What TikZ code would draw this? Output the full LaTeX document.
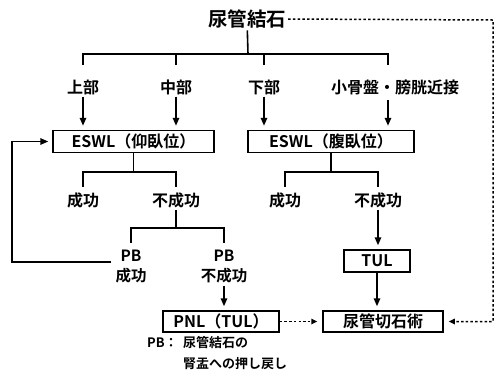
\documentclass[tikz,border=0pt]{standalone}
\usepackage{fontspec}
\setmainfont{Noto Sans CJK JP}[BoldFont={* Bold}]
\usetikzlibrary{arrows.meta}
\tikzset{
  lab/.style={inner sep=2pt, font=\fontsize{16}{18}\selectfont\bfseries},
  ttl/.style={inner sep=2pt, font=\fontsize{19.5}{22}\selectfont\bfseries},
  pbl/.style={inner sep=2pt, align=center, font=\fontsize{15.5}{20}\selectfont\bfseries},
  note/.style={inner sep=0pt, anchor=west, font=\fontsize{13}{15}\selectfont\bfseries},
  box/.style={draw, line width=1.5pt, inner sep=0pt, minimum height=22pt, font=\fontsize{16}{18}\selectfont\bfseries},
  ln/.style={line width=1.6pt},
  arr/.style={line width=1.6pt, -{Triangle[length=8pt,width=6.5pt]}, shorten >=4pt},
  dotarr/.style={line width=1.5pt, dash pattern=on 2.5pt off 2.2pt, -{Triangle[length=6pt,width=5.5pt]}, shorten >=5pt},
}
\begin{document}
\begin{tikzpicture}[x=1pt,y=-1pt]
\useasboundingbox[fill=white] (0,0) rectangle (496,376);
% nodes
\node[ttl] (title) at (247,19) {尿管結石};
\node[lab] (l1) at (83,87) {上部};
\node[lab] (l2) at (176,87) {中部};
\node[lab] (l3) at (264,87) {下部};
\node[lab] (l4) at (395,87) {小骨盤・膀胱近接};
\node[box, minimum width=161pt] (box1) at (133.5,141.5) {ESWL（仰臥位）};
\node[box, minimum width=166pt] (box2) at (331,141.5) {ESWL（腹臥位）};
\node[lab] (s1) at (83,200) {成功};
\node[lab] (f1) at (176,200) {不成功};
\node[lab] (s2) at (285,200) {成功};
\node[lab] (f2) at (378,200) {不成功};
\node[pbl] (pbs) at (131,267) {PB\\成功};
\node[pbl] (pbf) at (224,267) {PB\\不成功};
\node[box, minimum width=66pt] (tul) at (377,261) {TUL};
\node[box, minimum width=116pt, minimum height=21pt] (pnl) at (221,321.5) {PNL（TUL）};
\node[box, minimum width=120pt, minimum height=21pt] (cut) at (383,321.5) {尿管切石術};
\node[note] (n1a) at (147,343) {PB：};
\node[note] (n1b) at (183,343) {尿管結石の};
\node[note] (n2) at (183,364) {腎盂への押し戻し};
% coordinates
\coordinate (j0) at (248,54);
\coordinate (k1) at (83,65);
\coordinate (k2) at (176,65);
\coordinate (k3) at (264,65);
\coordinate (k4) at (388,65);
\coordinate (a4) at (388,100);
\coordinate (m1) at (133,172);
\coordinate (n1) at (83,187);
\coordinate (n2) at (176,187);
\coordinate (m2) at (331,172);
\coordinate (n3) at (285,187);
\coordinate (n4) at (378,187);
\coordinate (m3) at (176,228);
\coordinate (n5) at (131,243);
\coordinate (n6) at (224,243);
\coordinate (fb) at (111,262);
\coordinate (fbc) at (12,262);
\coordinate (cr1) at (493,20);
\coordinate (cr2) at (493,321.5);
% connectors
\draw[ln] (title) -- (j0);
\draw[ln] (k1) |- (j0) -| (k4);
\draw[ln] (k2) -- (k2 |- j0);
\draw[ln] (k3) -- (k3 |- j0);
\draw[arr] (l1) -- (l1 |- box1.north);
\draw[arr] (l2) -- (l2 |- box1.north);
\draw[arr] (l3) -- (l3 |- box2.north);
\draw[arr] (a4) -- (a4 |- box2.north);
\draw[ln] (box1.south) -- (box1.south |- m1);
\draw[ln] (n1) |- (m1) -| (n2);
\draw[ln] (box2.south) -- (box2.south |- m2);
\draw[ln] (n3) |- (m2) -| (n4);
\draw[ln] (f1) -- (f1 |- m3);
\draw[ln] (n5) |- (m3) -| (n6);
\draw[arr] (fb) -- (fbc) |- (box1.west);
\draw[arr] (pbf) -- (pbf |- pnl.north);
\draw[arr] (f2) -- (f2 |- tul.north);
\draw[arr] (tul.south) -- (tul.south |- cut.north);
\draw[dotarr] (pnl.east) -- (cut.west);
\draw[dotarr] (title.east) -- (cr1) -- (cr2) -- (cut.east);
\end{tikzpicture}
\end{document}
